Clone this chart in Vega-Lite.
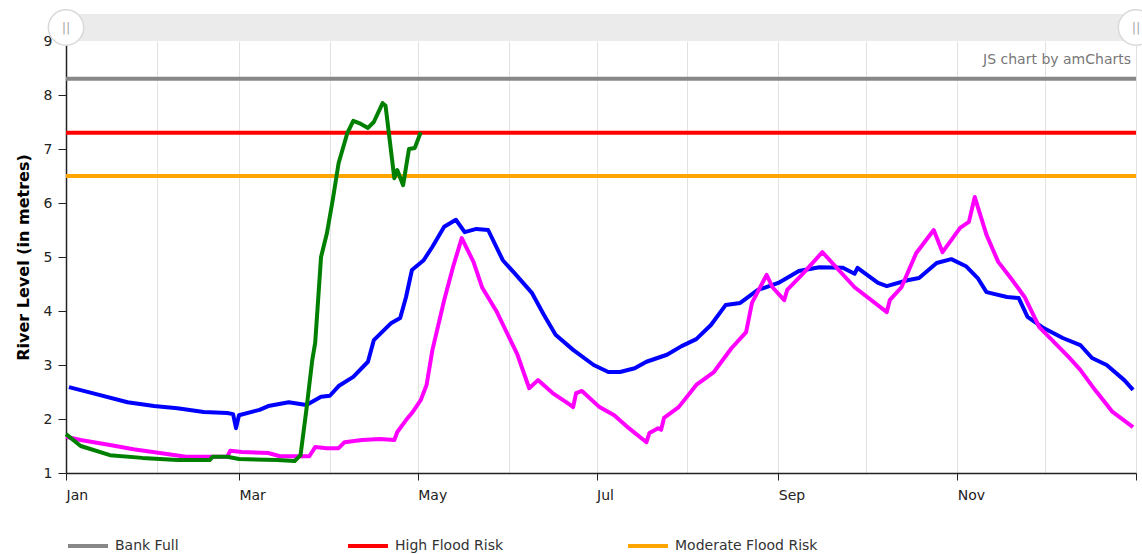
{
  "$schema": "https://vega.github.io/schema/vega-lite/v6.json",
  "width": 1070,
  "height": 432,
  "autosize": {"type": "none"},
  "padding": {"left": 66, "top": 41, "right": 6, "bottom": 81},
  "background": "white",
  "config": {"view": {"stroke": null}, "font": "DejaVu Sans"},
  "data": {"values": [{}]},
  "datasets": {
    "levels": [
      {"series": "Year 1", "date": "2019-01-02", "level": 2.59},
      {"series": "Year 1", "date": "2019-01-10", "level": 2.48},
      {"series": "Year 1", "date": "2019-01-22", "level": 2.31},
      {"series": "Year 1", "date": "2019-01-31", "level": 2.24},
      {"series": "Year 1", "date": "2019-02-08", "level": 2.20},
      {"series": "Year 1", "date": "2019-02-17", "level": 2.13},
      {"series": "Year 1", "date": "2019-02-25", "level": 2.11},
      {"series": "Year 1", "date": "2019-02-27", "level": 2.09},
      {"series": "Year 1", "date": "2019-02-28", "level": 1.83},
      {"series": "Year 1", "date": "2019-03-01", "level": 2.07},
      {"series": "Year 1", "date": "2019-03-08", "level": 2.17},
      {"series": "Year 1", "date": "2019-03-11", "level": 2.24},
      {"series": "Year 1", "date": "2019-03-18", "level": 2.31},
      {"series": "Year 1", "date": "2019-03-24", "level": 2.26},
      {"series": "Year 1", "date": "2019-03-29", "level": 2.41},
      {"series": "Year 1", "date": "2019-04-01", "level": 2.43},
      {"series": "Year 1", "date": "2019-04-04", "level": 2.61},
      {"series": "Year 1", "date": "2019-04-09", "level": 2.78},
      {"series": "Year 1", "date": "2019-04-14", "level": 3.06},
      {"series": "Year 1", "date": "2019-04-16", "level": 3.46},
      {"series": "Year 1", "date": "2019-04-22", "level": 3.78},
      {"series": "Year 1", "date": "2019-04-25", "level": 3.87},
      {"series": "Year 1", "date": "2019-04-27", "level": 4.26},
      {"series": "Year 1", "date": "2019-04-29", "level": 4.76},
      {"series": "Year 1", "date": "2019-05-03", "level": 4.94},
      {"series": "Year 1", "date": "2019-05-06", "level": 5.19},
      {"series": "Year 1", "date": "2019-05-10", "level": 5.56},
      {"series": "Year 1", "date": "2019-05-14", "level": 5.69},
      {"series": "Year 1", "date": "2019-05-17", "level": 5.46},
      {"series": "Year 1", "date": "2019-05-21", "level": 5.52},
      {"series": "Year 1", "date": "2019-05-25", "level": 5.50},
      {"series": "Year 1", "date": "2019-05-30", "level": 4.94},
      {"series": "Year 1", "date": "2019-06-03", "level": 4.70},
      {"series": "Year 1", "date": "2019-06-09", "level": 4.33},
      {"series": "Year 1", "date": "2019-06-13", "level": 3.93},
      {"series": "Year 1", "date": "2019-06-17", "level": 3.56},
      {"series": "Year 1", "date": "2019-06-23", "level": 3.28},
      {"series": "Year 1", "date": "2019-06-30", "level": 3.00},
      {"series": "Year 1", "date": "2019-07-05", "level": 2.87},
      {"series": "Year 1", "date": "2019-07-09", "level": 2.87},
      {"series": "Year 1", "date": "2019-07-14", "level": 2.94},
      {"series": "Year 1", "date": "2019-07-18", "level": 3.06},
      {"series": "Year 1", "date": "2019-07-25", "level": 3.19},
      {"series": "Year 1", "date": "2019-07-30", "level": 3.35},
      {"series": "Year 1", "date": "2019-08-04", "level": 3.48},
      {"series": "Year 1", "date": "2019-08-09", "level": 3.74},
      {"series": "Year 1", "date": "2019-08-14", "level": 4.11},
      {"series": "Year 1", "date": "2019-08-19", "level": 4.15},
      {"series": "Year 1", "date": "2019-08-25", "level": 4.39},
      {"series": "Year 1", "date": "2019-09-01", "level": 4.52},
      {"series": "Year 1", "date": "2019-09-08", "level": 4.74},
      {"series": "Year 1", "date": "2019-09-15", "level": 4.81},
      {"series": "Year 1", "date": "2019-09-23", "level": 4.80},
      {"series": "Year 1", "date": "2019-09-27", "level": 4.69},
      {"series": "Year 1", "date": "2019-09-28", "level": 4.80},
      {"series": "Year 1", "date": "2019-10-05", "level": 4.52},
      {"series": "Year 1", "date": "2019-10-08", "level": 4.46},
      {"series": "Year 1", "date": "2019-10-15", "level": 4.57},
      {"series": "Year 1", "date": "2019-10-19", "level": 4.61},
      {"series": "Year 1", "date": "2019-10-25", "level": 4.89},
      {"series": "Year 1", "date": "2019-10-30", "level": 4.96},
      {"series": "Year 1", "date": "2019-11-04", "level": 4.83},
      {"series": "Year 1", "date": "2019-11-08", "level": 4.61},
      {"series": "Year 1", "date": "2019-11-11", "level": 4.35},
      {"series": "Year 1", "date": "2019-11-18", "level": 4.26},
      {"series": "Year 1", "date": "2019-11-22", "level": 4.24},
      {"series": "Year 1", "date": "2019-11-25", "level": 3.89},
      {"series": "Year 1", "date": "2019-11-30", "level": 3.70},
      {"series": "Year 1", "date": "2019-12-07", "level": 3.50},
      {"series": "Year 1", "date": "2019-12-13", "level": 3.37},
      {"series": "Year 1", "date": "2019-12-17", "level": 3.13},
      {"series": "Year 1", "date": "2019-12-22", "level": 3.00},
      {"series": "Year 1", "date": "2019-12-28", "level": 2.72},
      {"series": "Year 1", "date": "2019-12-31", "level": 2.54},

      {"series": "Year 2", "date": "2019-01-01", "level": 1.67},
      {"series": "Year 2", "date": "2019-01-06", "level": 1.61},
      {"series": "Year 2", "date": "2019-01-16", "level": 1.52},
      {"series": "Year 2", "date": "2019-01-24", "level": 1.44},
      {"series": "Year 2", "date": "2019-02-02", "level": 1.37},
      {"series": "Year 2", "date": "2019-02-11", "level": 1.30},
      {"series": "Year 2", "date": "2019-02-18", "level": 1.30},
      {"series": "Year 2", "date": "2019-02-25", "level": 1.30},
      {"series": "Year 2", "date": "2019-02-26", "level": 1.41},
      {"series": "Year 2", "date": "2019-03-02", "level": 1.39},
      {"series": "Year 2", "date": "2019-03-11", "level": 1.37},
      {"series": "Year 2", "date": "2019-03-15", "level": 1.31},
      {"series": "Year 2", "date": "2019-03-25", "level": 1.31},
      {"series": "Year 2", "date": "2019-03-27", "level": 1.48},
      {"series": "Year 2", "date": "2019-03-31", "level": 1.46},
      {"series": "Year 2", "date": "2019-04-04", "level": 1.46},
      {"series": "Year 2", "date": "2019-04-06", "level": 1.57},
      {"series": "Year 2", "date": "2019-04-12", "level": 1.61},
      {"series": "Year 2", "date": "2019-04-18", "level": 1.63},
      {"series": "Year 2", "date": "2019-04-23", "level": 1.61},
      {"series": "Year 2", "date": "2019-04-24", "level": 1.76},
      {"series": "Year 2", "date": "2019-04-27", "level": 1.98},
      {"series": "Year 2", "date": "2019-04-29", "level": 2.11},
      {"series": "Year 2", "date": "2019-05-02", "level": 2.35},
      {"series": "Year 2", "date": "2019-05-04", "level": 2.63},
      {"series": "Year 2", "date": "2019-05-06", "level": 3.28},
      {"series": "Year 2", "date": "2019-05-10", "level": 4.20},
      {"series": "Year 2", "date": "2019-05-13", "level": 4.81},
      {"series": "Year 2", "date": "2019-05-16", "level": 5.35},
      {"series": "Year 2", "date": "2019-05-20", "level": 4.91},
      {"series": "Year 2", "date": "2019-05-23", "level": 4.43},
      {"series": "Year 2", "date": "2019-05-28", "level": 3.98},
      {"series": "Year 2", "date": "2019-06-04", "level": 3.19},
      {"series": "Year 2", "date": "2019-06-08", "level": 2.57},
      {"series": "Year 2", "date": "2019-06-11", "level": 2.72},
      {"series": "Year 2", "date": "2019-06-16", "level": 2.48},
      {"series": "Year 2", "date": "2019-06-22", "level": 2.26},
      {"series": "Year 2", "date": "2019-06-23", "level": 2.22},
      {"series": "Year 2", "date": "2019-06-24", "level": 2.48},
      {"series": "Year 2", "date": "2019-06-26", "level": 2.52},
      {"series": "Year 2", "date": "2019-07-02", "level": 2.22},
      {"series": "Year 2", "date": "2019-07-07", "level": 2.07},
      {"series": "Year 2", "date": "2019-07-12", "level": 1.83},
      {"series": "Year 2", "date": "2019-07-18", "level": 1.57},
      {"series": "Year 2", "date": "2019-07-19", "level": 1.74},
      {"series": "Year 2", "date": "2019-07-22", "level": 1.83},
      {"series": "Year 2", "date": "2019-07-23", "level": 1.80},
      {"series": "Year 2", "date": "2019-07-24", "level": 2.02},
      {"series": "Year 2", "date": "2019-07-29", "level": 2.22},
      {"series": "Year 2", "date": "2019-08-04", "level": 2.63},
      {"series": "Year 2", "date": "2019-08-10", "level": 2.87},
      {"series": "Year 2", "date": "2019-08-16", "level": 3.31},
      {"series": "Year 2", "date": "2019-08-21", "level": 3.61},
      {"series": "Year 2", "date": "2019-08-23", "level": 4.15},
      {"series": "Year 2", "date": "2019-08-28", "level": 4.67},
      {"series": "Year 2", "date": "2019-08-30", "level": 4.44},
      {"series": "Year 2", "date": "2019-09-03", "level": 4.20},
      {"series": "Year 2", "date": "2019-09-04", "level": 4.39},
      {"series": "Year 2", "date": "2019-09-09", "level": 4.67},
      {"series": "Year 2", "date": "2019-09-16", "level": 5.09},
      {"series": "Year 2", "date": "2019-09-27", "level": 4.44},
      {"series": "Year 2", "date": "2019-10-08", "level": 3.98},
      {"series": "Year 2", "date": "2019-10-09", "level": 4.20},
      {"series": "Year 2", "date": "2019-10-13", "level": 4.44},
      {"series": "Year 2", "date": "2019-10-18", "level": 5.07},
      {"series": "Year 2", "date": "2019-10-24", "level": 5.50},
      {"series": "Year 2", "date": "2019-10-27", "level": 5.09},
      {"series": "Year 2", "date": "2019-11-02", "level": 5.54},
      {"series": "Year 2", "date": "2019-11-05", "level": 5.65},
      {"series": "Year 2", "date": "2019-11-07", "level": 6.11},
      {"series": "Year 2", "date": "2019-11-11", "level": 5.41},
      {"series": "Year 2", "date": "2019-11-15", "level": 4.91},
      {"series": "Year 2", "date": "2019-11-19", "level": 4.63},
      {"series": "Year 2", "date": "2019-11-24", "level": 4.26},
      {"series": "Year 2", "date": "2019-11-29", "level": 3.70},
      {"series": "Year 2", "date": "2019-12-09", "level": 3.15},
      {"series": "Year 2", "date": "2019-12-13", "level": 2.91},
      {"series": "Year 2", "date": "2019-12-18", "level": 2.54},
      {"series": "Year 2", "date": "2019-12-24", "level": 2.13},
      {"series": "Year 2", "date": "2019-12-31", "level": 1.85},

      {"series": "Year 3", "date": "2019-01-01", "level": 1.72},
      {"series": "Year 3", "date": "2019-01-06", "level": 1.50},
      {"series": "Year 3", "date": "2019-01-16", "level": 1.33},
      {"series": "Year 3", "date": "2019-01-27", "level": 1.28},
      {"series": "Year 3", "date": "2019-02-08", "level": 1.24},
      {"series": "Year 3", "date": "2019-02-19", "level": 1.24},
      {"series": "Year 3", "date": "2019-02-20", "level": 1.30},
      {"series": "Year 3", "date": "2019-02-25", "level": 1.30},
      {"series": "Year 3", "date": "2019-03-01", "level": 1.26},
      {"series": "Year 3", "date": "2019-03-14", "level": 1.24},
      {"series": "Year 3", "date": "2019-03-20", "level": 1.22},
      {"series": "Year 3", "date": "2019-03-22", "level": 1.33},
      {"series": "Year 3", "date": "2019-03-24", "level": 2.17},
      {"series": "Year 3", "date": "2019-03-26", "level": 3.09},
      {"series": "Year 3", "date": "2019-03-27", "level": 3.41},
      {"series": "Year 3", "date": "2019-03-28", "level": 4.20},
      {"series": "Year 3", "date": "2019-03-29", "level": 5.00},
      {"series": "Year 3", "date": "2019-03-31", "level": 5.44},
      {"series": "Year 3", "date": "2019-04-02", "level": 6.06},
      {"series": "Year 3", "date": "2019-04-04", "level": 6.74},
      {"series": "Year 3", "date": "2019-04-07", "level": 7.30},
      {"series": "Year 3", "date": "2019-04-09", "level": 7.52},
      {"series": "Year 3", "date": "2019-04-11", "level": 7.48},
      {"series": "Year 3", "date": "2019-04-14", "level": 7.39},
      {"series": "Year 3", "date": "2019-04-16", "level": 7.50},
      {"series": "Year 3", "date": "2019-04-19", "level": 7.85},
      {"series": "Year 3", "date": "2019-04-20", "level": 7.80},
      {"series": "Year 3", "date": "2019-04-23", "level": 6.46},
      {"series": "Year 3", "date": "2019-04-24", "level": 6.61},
      {"series": "Year 3", "date": "2019-04-26", "level": 6.33},
      {"series": "Year 3", "date": "2019-04-28", "level": 7.00},
      {"series": "Year 3", "date": "2019-04-30", "level": 7.02},
      {"series": "Year 3", "date": "2019-05-02", "level": 7.31}
    ],
    "thresholds": [
      {"name": "Bank Full", "level": 8.3},
      {"name": "High Flood Risk", "level": 7.3},
      {"name": "Moderate Flood Risk", "level": 6.5}
    ]
  },
  "layer": [
    {
      "mark": {"type": "rect", "fill": "#ebebeb", "clip": false},
      "encoding": {
        "x": {"datum": {"year": 2019, "month": 1, "date": 1, "utc": true}, "type": "temporal",
              "scale": {"type": "utc", "domain": [{"year": 2019, "month": 1, "date": 1, "utc": true}, {"year": 2020, "month": 1, "date": 1, "utc": true}]}},
        "x2": {"datum": {"year": 2020, "month": 1, "date": 1, "utc": true}},
        "y": {"datum": 9.0, "type": "quantitative", "scale": {"domain": [1, 9], "nice": false, "zero": false}},
        "y2": {"datum": 9.5}
      }
    },
    {
      "data": {"name": "thresholds"},
      "mark": {"type": "rule", "strokeWidth": 4},
      "encoding": {
        "y": {"field": "level", "type": "quantitative"},
        "color": {
          "field": "name", "type": "nominal",
          "scale": {"domain": ["Bank Full", "High Flood Risk", "Moderate Flood Risk"], "range": ["#888888", "#ff0000", "#ffa500"]},
          "legend": {
            "orient": "none", "legendX": 0, "legendY": 483, "direction": "horizontal", "columns": 3,
            "gridAlign": "all", "columnPadding": 82, "title": null, "symbolType": "stroke",
            "symbolSize": 1600, "symbolStrokeWidth": 4, "labelFontSize": 14, "labelColor": "#333",
            "labelOffset": 5, "labelFont": "DejaVu Sans"
          }
        }
      }
    },
    {
      "data": {"name": "levels"},
      "mark": {"type": "line", "strokeWidth": 4, "strokeJoin": "round"},
      "encoding": {
        "x": {
          "field": "date", "type": "temporal",
          "scale": {"type": "utc", "domain": [{"year": 2019, "month": 1, "date": 1, "utc": true}, {"year": 2020, "month": 1, "date": 1, "utc": true}]},
          "axis": {
            "title": null,
            "values": [
              {"year": 2019, "month": 1, "date": 1, "utc": true},
              {"year": 2019, "month": 2, "date": 1, "utc": true},
              {"year": 2019, "month": 3, "date": 1, "utc": true},
              {"year": 2019, "month": 4, "date": 1, "utc": true},
              {"year": 2019, "month": 5, "date": 1, "utc": true},
              {"year": 2019, "month": 6, "date": 1, "utc": true},
              {"year": 2019, "month": 7, "date": 1, "utc": true},
              {"year": 2019, "month": 8, "date": 1, "utc": true},
              {"year": 2019, "month": 9, "date": 1, "utc": true},
              {"year": 2019, "month": 10, "date": 1, "utc": true},
              {"year": 2019, "month": 11, "date": 1, "utc": true},
              {"year": 2019, "month": 12, "date": 1, "utc": true},
              {"year": 2020, "month": 1, "date": 1, "utc": true}
            ],
            "labelExpr": "(utcmonth(datum.value) % 2 == 0 && utcyear(datum.value) == 2019) ? utcFormat(datum.value, '%b') : ''",
            "tickOpacity": {"condition": {"test": "utcmonth(datum.value) % 2 == 0", "value": 1}, "value": 0},
            "grid": true, "gridColor": "#e2e2e2", "gridWidth": 1,
            "domainColor": "#222", "domainWidth": 1.5, "tickColor": "#222", "tickSize": 7,
            "labelAlign": "left", "labelPadding": 8, "labelFontSize": 14, "labelColor": "#222",
            "labelFont": "DejaVu Sans", "labelFlush": false, "labelOverlap": false
          }
        },
        "y": {
          "field": "level", "type": "quantitative",
          "scale": {"domain": [1, 9], "nice": false, "zero": false},
          "axis": {
            "title": "River Level (in metres)", "titleFontSize": 16, "titleFontWeight": "bold",
            "titleColor": "#000", "titleFont": "DejaVu Sans", "titlePadding": 12,
            "values": [1, 2, 3, 4, 5, 6, 7, 8, 9], "grid": false,
            "domainColor": "#222", "domainWidth": 1.5, "tickColor": "#222", "tickSize": 8,
            "labelPadding": 6, "labelFontSize": 14, "labelColor": "#222", "labelFont": "DejaVu Sans"
          }
        },
        "stroke": {
          "field": "series", "type": "nominal",
          "scale": {"domain": ["Year 1", "Year 2", "Year 3"], "range": ["#0000ff", "#ff00ff", "#008000"]},
          "legend": null
        }
      }
    },
    {
      "mark": {"type": "text", "align": "right", "baseline": "middle", "dx": -5, "fontSize": 14, "color": "#777", "font": "DejaVu Sans"},
      "encoding": {
        "x": {"datum": {"year": 2020, "month": 1, "date": 1, "utc": true}, "type": "temporal"},
        "y": {"datum": 8.65, "type": "quantitative"},
        "text": {"value": "JS chart by amCharts"}
      }
    },
    {
      "mark": {"type": "point", "filled": true, "fill": "white", "stroke": "#d9d9d9", "strokeWidth": 1.5, "size": 1250, "opacity": 1, "clip": false},
      "encoding": {
        "x": {"datum": {"year": 2019, "month": 1, "date": 1, "utc": true}, "type": "temporal"},
        "y": {"datum": 9.25, "type": "quantitative"}
      }
    },
    {
      "mark": {"type": "point", "filled": true, "fill": "white", "stroke": "#d9d9d9", "strokeWidth": 1.5, "size": 1250, "opacity": 1, "clip": false},
      "encoding": {
        "x": {"datum": {"year": 2020, "month": 1, "date": 1, "utc": true}, "type": "temporal"},
        "y": {"datum": 9.25, "type": "quantitative"}
      }
    },
    {
      "mark": {"type": "text", "align": "center", "baseline": "middle", "fontSize": 13, "color": "#aaa", "clip": false, "font": "DejaVu Sans"},
      "encoding": {
        "x": {"datum": {"year": 2019, "month": 1, "date": 1, "utc": true}, "type": "temporal"},
        "y": {"datum": 9.25, "type": "quantitative"},
        "text": {"value": "||"}
      }
    },
    {
      "mark": {"type": "text", "align": "center", "baseline": "middle", "fontSize": 13, "color": "#aaa", "clip": false, "font": "DejaVu Sans"},
      "encoding": {
        "x": {"datum": {"year": 2020, "month": 1, "date": 1, "utc": true}, "type": "temporal"},
        "y": {"datum": 9.25, "type": "quantitative"},
        "text": {"value": "||"}
      }
    }
  ]
}
